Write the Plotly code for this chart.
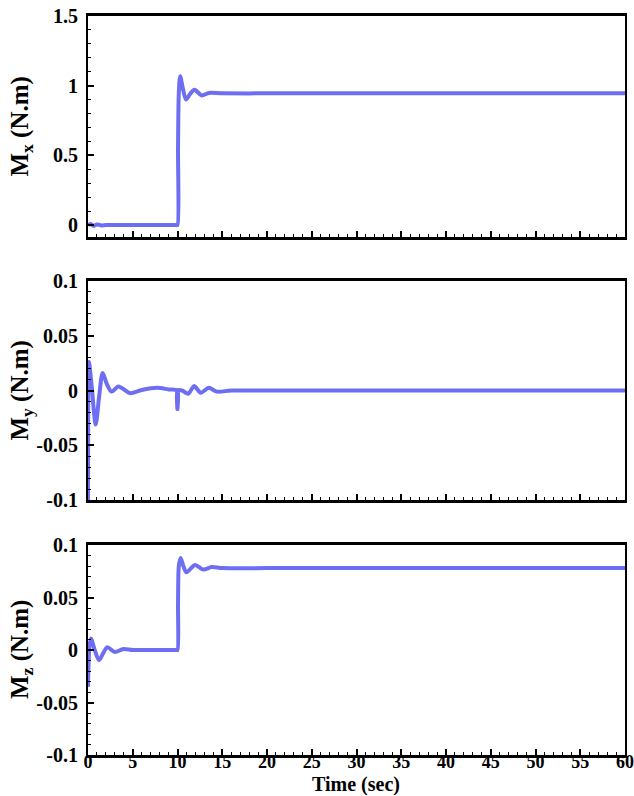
import plotly.graph_objects as go

# ---------------- data ----------------
t_mx = [0, 0.3, 0.6, 1.0, 1.5, 2.0, 3.0, 5.0, 9.9, 10.0, 10.06, 10.15, 10.3, 10.6, 10.95, 11.4, 11.9, 12.7, 13.5, 15, 20, 30, 40, 50, 60]
mx = [0.0, 0.008, -0.006, 0.004, -0.003, 0.0, 0.0, 0.0, 0.0, 0.0, 0.55, 0.95, 1.067, 0.98, 0.90, 0.94, 0.97, 0.93, 0.948, 0.945, 0.945, 0.946, 0.946, 0.945, 0.945]

t_my = [0, 0.02, 0.1, 0.4, 0.86, 1.25, 1.64, 2.1, 2.64, 3.4, 4.7, 6.0, 7.7, 9.0, 9.97, 9.99, 10.01, 10.5, 11.2, 11.85, 12.6, 13.5, 14.4, 16, 20, 30, 40, 50, 60]
my = [-0.1, -0.02, 0.026, 0.005, -0.031, -0.005, 0.016, 0.006, -0.001, 0.0036, -0.0024, 0.0005, 0.0024, 0.001, 0.0, -0.017, 0.0, 0.0, -0.003, 0.004, -0.002, 0.0024, -0.001, 0.0, 0.0, 0.0, 0.0, 0.0, 0.0]

t_mz = [0, 0.15, 0.33, 0.75, 1.23, 1.7, 2.16, 3.0, 3.95, 5.0, 7.0, 9.9, 10.0, 10.06, 10.15, 10.35, 10.65, 11.0, 11.95, 12.9, 13.8, 15, 20, 30, 40, 50, 60]
mz = [-0.035, 0.002, 0.011, 0.0, -0.0096, -0.003, 0.0026, -0.002, 0.001, 0.0, 0.0, 0.0, 0.0, 0.045, 0.08, 0.0877, 0.080, 0.074, 0.081, 0.0766, 0.079, 0.078, 0.078, 0.078, 0.078, 0.078, 0.078]

x_tickvals = [0, 5, 10, 15, 20, 25, 30, 35, 40, 45, 50, 55, 60]
x_ticktext = ["0", "5", "10", "15", "20", "25", "30", "35", "40", "45", "50", "55", "60"]
mx_tickvals = [0, 0.5, 1, 1.5]
mx_ticktext = ["0", "0.5", "1", "1.5"]
m_tickvals = [-0.1, -0.05, 0, 0.05, 0.1]
m_ticktext = ["-0.1", "-0.05", "0", "0.05", "0.1"]

y_titles = ["M<sub>x</sub> (N.m)", "M<sub>y</sub> (N.m)", "M<sub>z</sub> (N.m)"]
x_title = "Time (sec)"

# ---------------- figure ----------------
W, H = 634, 796
FONT = "Liberation Serif"
LINE_COLOR = "rgba(90,90,240,0.88)"

fig = go.Figure()
series = [(t_mx, mx), (t_my, my), (t_mz, mz)]
for i, (tt, vv) in enumerate(series):
    ax = "" if i == 0 else str(i + 1)
    fig.add_trace(go.Scatter(
        x=tt, y=vv, mode="lines",
        line=dict(color=LINE_COLOR, width=4, shape="spline", smoothing=0.8),
        xaxis="x" + ax, yaxis="y" + ax, showlegend=False, hoverinfo="skip"))

def px_dom(top, bottom):
    return [1 - bottom / H, 1 - top / H]

x_dom = [88 / W, 625 / W]
y_px = [(16, 237), (281, 500), (545, 755)]
y_doms = [px_dom(a, b) for a, b in y_px]
y_ranges = [[-0.086, 1.5], [-0.1, 0.1], [-0.1, 0.1]]
y_ticks = [(mx_tickvals, mx_ticktext, 0.1), (m_tickvals, m_ticktext, 0.01), (m_tickvals, m_ticktext, 0.01)]

tickfont = dict(family=FONT, size=20, color="black")
xtickfont = dict(family=FONT, size=18, color="black")
layout = dict(width=W, height=H, margin=dict(l=0, r=0, t=0, b=0, autoexpand=False),
              plot_bgcolor="white", paper_bgcolor="white")

annotations = []
for i in range(3):
    sfx = "" if i == 0 else str(i + 1)
    last = (i == 2)
    xa = dict(
        domain=x_dom, range=[0, 60], anchor="y" + sfx, automargin=False,
        showgrid=False, zeroline=False,
        showline=True, linecolor="black", linewidth=2.5, mirror=True,
        ticks="inside", ticklen=6, tickwidth=1.5, tickcolor="black",
        tickvals=x_tickvals, ticktext=["<b>" + s + "</b>" for s in x_ticktext],
        showticklabels=last, tickfont=xtickfont, ticklabelstandoff=-11,
        ticklabeloverflow="allow",
        minor=dict(dtick=1, ticks="inside", ticklen=3, tickwidth=1, tickcolor="black", showgrid=False),
    )
    tv, tt_, mdt = y_ticks[i]
    ya = dict(
        domain=y_doms[i], range=y_ranges[i], anchor="x" + sfx, automargin=False,
        showgrid=False, zeroline=False,
        showline=True, linecolor="black", linewidth=2, mirror=True,
        ticks="inside", ticklen=6, tickwidth=1.5, tickcolor="black",
        tickvals=tv, ticktext=["<b>" + s + "</b>" for s in tt_], tickfont=tickfont,
        ticklabelstandoff=4, ticklabeloverflow="allow",
        minor=dict(dtick=mdt, ticks="inside", ticklen=3, tickwidth=1, tickcolor="black", showgrid=False),
    )
    layout["xaxis" + sfx] = xa
    layout["yaxis" + sfx] = ya
    a, b = y_px[i]
    annotations.append(dict(
        text="<b>" + y_titles[i] + "</b>", xref="paper", yref="paper",
        x=21 / W, y=1 - ((a + b) / 2) / H, textangle=-90, showarrow=False,
        xanchor="center", yanchor="middle",
        font=dict(family=FONT, size=25, color="black")))

annotations.append(dict(
    text="<b>" + x_title + "</b>", xref="paper", yref="paper",
    x=356 / W, y=0, xanchor="center", yanchor="bottom", showarrow=False,
    yshift=-1, borderpad=0,
    font=dict(family=FONT, size=20, color="black")))

layout["annotations"] = annotations
fig.update_layout(**layout)
fig.write_html("out.html")
